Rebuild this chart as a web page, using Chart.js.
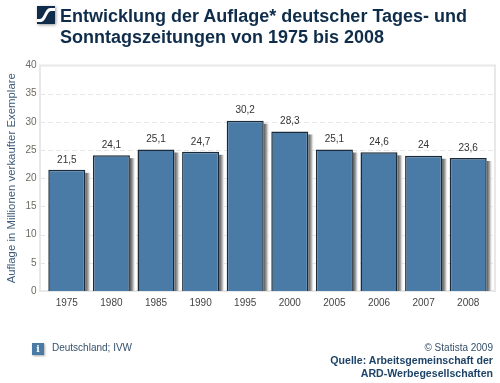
<!DOCTYPE html>
<html>
<head>
<meta charset="utf-8">
<script src="https://cdn.jsdelivr.net/npm/chart.js@4"></script>
<style>
	html, body { margin: 0; padding: 0; background: #fff; }
	#wrapper { position: relative; width: 500px; height: 383px; overflow: hidden; font-family: "Liberation Sans", Arial, sans-serif; }
	#wrapper canvas { position: absolute; left: 0; top: 0; }
	.txt { position: absolute; white-space: nowrap; }
	#title { left: 60px; top: 6px; font-size: 18px; line-height: 21px; font-weight: bold; color: #0f2d4a; }
	#logo { position: absolute; left: 37px; top: 6px; width: 18px; height: 18px; box-shadow: 1px 1px 3px #999; }
	#info { position: absolute; left: 32px; top: 343px; width: 12px; height: 12px; background: #4a7ba7; color: #fff; font: bold 9px/12px "DejaVu Serif", serif; text-align: center; box-shadow: 1px 1px 2px #aaa; }
	#region { left: 52px; top: 342px; font-size: 10px; line-height: 12px; color: #34506b; }
	#source { right: 7px; top: 342px; text-align: right; font-size: 10px; line-height: 12px; color: #34506b; }
	#source b { color: #1d4468; font-size: 10.6px; }
</style>
</head>
<body>
<div id="wrapper">
	<canvas id="chart" width="500" height="383"></canvas>
	<svg id="logo" viewBox="0 0 18 18">
		<rect width="18" height="18" fill="#0f2d4a" />
		<path d="M0 13 L3 13 C7 13 8 2 13 2 L18 2 L18 5 L14 5 C10 5 9 16 4 16 L0 16 Z" fill="#fff" />
	</svg>
	<div id="title" class="txt">Entwicklung der Auflage* deutscher Tages- und<br>Sonntagszeitungen von 1975 bis 2008</div>
	<div id="info">i</div>
	<div id="region" class="txt">Deutschland; IVW</div>
	<div id="source" class="txt">© Statista 2009<br><b>Quelle: Arbeitsgemeinschaft der<br>ARD-Werbegesellschaften</b></div>
</div>
<script>
const years = ["1975", "1980", "1985", "1990", "1995", "2000", "2005", "2006", "2007", "2008"];
const auflage = [21.5, 24.1, 25.1, 24.7, 30.2, 28.3, 25.1, 24.6, 24, 23.6];
const yTitle = "Auflage in Millionen verkaufter Exemplare";

// the frame and dashed grid reach a bit past the first and last category
const frameOutset = 4.5;

const plotFrame = {
	id: "plotFrame",
	beforeDatasetsDraw(chart) {
		let { ctx, chartArea: a, scales } = chart;
		let left = a.left - frameOutset;
		let right = a.right + frameOutset;
		ctx.save();

		ctx.strokeStyle = "#e6e6e6";
		ctx.lineWidth = 1;
		ctx.setLineDash([5, 3]);
		scales.y.ticks.forEach((tick) => {
			if (tick.value === 0 || tick.value === 40) return;
			let y = Math.round(scales.y.getPixelForValue(tick.value)) + 0.5;
			ctx.beginPath();
			ctx.moveTo(left, y);
			ctx.lineTo(right, y);
			ctx.stroke();
		});

		ctx.setLineDash([]);
		ctx.lineWidth = 2;
		ctx.strokeStyle = "#e8e8e8";
		ctx.strokeRect(left, a.top, right - left, a.bottom - a.top);
		ctx.restore();
	},
};

// soft shadow to the right of each bar
const barShadow = {
	id: "barShadow",
	beforeDatasetsDraw(chart) {
		let ctx = chart.ctx;
		ctx.save();
		chart.getDatasetMeta(0).data.forEach((bar) => {
			let x = bar.x + bar.width / 2;
			let grad = ctx.createLinearGradient(x, 0, x + 6, 0);
			grad.addColorStop(0, "#555");
			grad.addColorStop(0.5, "#aaa");
			grad.addColorStop(1, "rgba(255,255,255,0)");
			ctx.fillStyle = grad;
			ctx.fillRect(x, bar.y + 3, 6, bar.base - bar.y - 3);
		});
		ctx.restore();
	},
};

// value on top of each bar, german decimal comma
const barLabels = {
	id: "barLabels",
	afterDatasetsDraw(chart) {
		let ctx = chart.ctx;
		ctx.save();
		ctx.font = '10px "Liberation Sans"';
		ctx.fillStyle = "#333";
		ctx.textAlign = "center";
		ctx.textBaseline = "bottom";
		chart.getDatasetMeta(0).data.forEach((bar, i) => {
			ctx.fillText(String(auflage[i]).replace(".", ","), bar.x, bar.y - 5);
		});
		ctx.restore();
	},
};

new Chart(document.getElementById("chart").getContext("2d"), {
	type: "bar",
	data: {
		labels: years,
		datasets: [
			{
				data: auflage,
				backgroundColor: "#4a7ba7",
				borderColor: "#1c2a38",
				borderWidth: { top: 1.5, left: 1.5, right: 1.5, bottom: 0 },
				inflateAmount: 0,
				categoryPercentage: 1,
				barPercentage: 0.83,
			},
		],
	},
	options: {
		responsive: false,
		animation: false,
		layout: { padding: { left: 0, right: 9.5, top: 65.5, bottom: 0 } },
		scales: {
			x: {
				grid: { display: false, drawTicks: false },
				border: { display: false },
				ticks: { color: "#444", font: { size: 10, family: "Liberation Sans" }, padding: 6, maxRotation: 0 },
				afterFit(scale) { scale.height = 92; },
			},
			y: {
				min: 0,
				max: 40,
				ticks: { stepSize: 5, color: "#6f6a60", font: { size: 10, family: "Liberation Sans" }, padding: 8 },
				grid: { display: false, drawTicks: false },
				border: { display: false },
				title: {
					display: true,
					text: yTitle,
					color: "#3c5a78",
					font: { size: 11.4, family: "Liberation Sans" },
					padding: { top: 5, bottom: 0 },
				},
				afterFit(scale) { scale.width = 44.5; },
			},
		},
		plugins: {
			legend: { display: false },
			tooltip: { enabled: false },
			title: { display: false },
		},
	},
	plugins: [plotFrame, barShadow, barLabels],
});
</script>
</body>
</html>
